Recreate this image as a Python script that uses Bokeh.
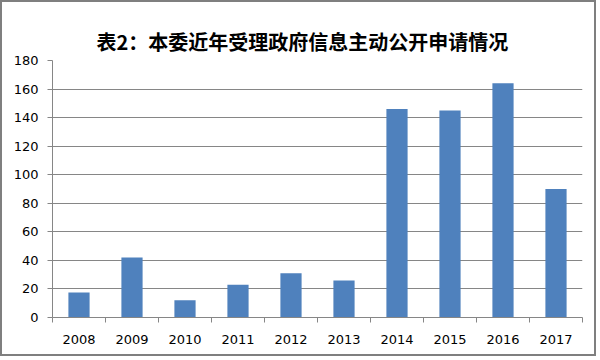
from bokeh.plotting import figure
from bokeh.models import FixedTicker, ColumnDataSource, LinearAxis
from bokeh.embed import file_html
from bokeh.resources import INLINE

title_text = "表2：本委近年受理政府信息主动公开申请情况"
years = ["2008", "2009", "2010", "2011", "2012", "2013", "2014", "2015", "2016", "2017"]
counts = [17.5, 42, 12, 23, 31, 26, 146, 145, 164, 90]
y_ticks = [0, 20, 40, 60, 80, 100, 120, 140, 160, 180]

centers = [i + 0.5 for i in range(len(years))]
src = ColumnDataSource(data=dict(x=centers, top=counts, year=years))

p = figure(width=596, height=356, x_range=(0, len(years)), y_range=(0, 180),
           output_backend="svg", toolbar_location=None,
           min_border_left=50, min_border_right=16, min_border_top=58, min_border_bottom=41)
p.styles = {"border": "2px solid #7f7f7f"}
p.background_fill_color = "white"
p.border_fill_color = "white"
p.outline_line_color = None

p.title.text = title_text
p.title.align = "left"
p.title.offset = 44
p.title.text_font = "Noto Sans CJK SC"
p.title.text_font_size = "20px"
p.title.text_font_style = "bold"
p.title.text_color = "black"
p.title.standoff = 9

p.vbar(x="x", top="top", width=0.4, source=src, fill_color="#4F81BD", line_color=None)

grey = "#868686"
xa = p.below[0]
xa.ticker = FixedTicker(ticks=centers, minor_ticks=list(range(len(years) + 1)))
xa.major_label_overrides = {c: y for c, y in zip(centers, years)}
xa.major_tick_out = 0
xa.major_tick_in = 0
xa.minor_tick_out = 5
xa.minor_tick_in = 0
xa.minor_tick_line_color = grey
xa.axis_line_color = grey
xa.major_label_text_font = "DejaVu Sans"
xa.major_label_text_font_size = "13px"
xa.major_label_text_color = "black"
xa.major_label_standoff = 12

ya = p.left[0]
ya.ticker = FixedTicker(ticks=y_ticks)
ya.major_tick_out = 5
ya.major_tick_in = 0
ya.minor_tick_line_color = None
ya.major_tick_line_color = grey
ya.axis_line_color = grey
ya.major_label_text_font = "DejaVu Sans"
ya.major_label_text_font_size = "13px"
ya.major_label_text_color = "black"
ya.major_label_standoff = 9

p.xgrid.grid_line_color = None
p.ygrid.grid_line_color = grey
p.ygrid.ticker = FixedTicker(ticks=y_ticks)

# invisible spacer between the title and the plot frame
spacer = LinearAxis(ticker=FixedTicker(ticks=[], minor_ticks=[]), axis_line_color=None,
                    major_tick_out=20, major_tick_in=0, minor_tick_out=0, minor_tick_in=0,
                    major_tick_line_color="white", minor_tick_line_color=None,
                    major_label_standoff=0)
p.add_layout(spacer, "above")

open("out.html", "w").write(file_html(p, INLINE))
